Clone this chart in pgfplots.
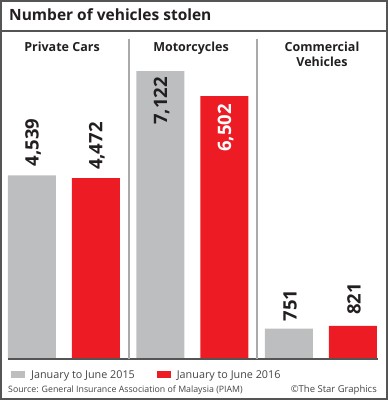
\documentclass[border=0pt]{standalone}
\usepackage{fontspec}
\setmainfont{Open Sans}
\usepackage{pgfplots}
\pgfplotsset{compat=1.18}
\definecolor{barGray}{HTML}{BCBEC0}
\definecolor{barRed}{HTML}{ED1C24}
\definecolor{frameGray}{HTML}{555555}
\definecolor{sepGray}{HTML}{AAAAAA}
\definecolor{txt}{HTML}{231F20}
\definecolor{ltxt}{HTML}{444444}
\begin{document}
\begin{tikzpicture}
\begin{axis}[name=ax, scale only axis, width=388pt, height=400pt,
  xmin=-0.498, xmax=2.5214, ymin=-1014, ymax=8878,
  hide axis, clip=false, ybar, bar width=48pt,
  legend columns=2,
  legend style={at={(rel axis cs:0,0)}, anchor=west, xshift=11pt, yshift=25pt,
    draw=none, fill=none, inner sep=0pt, font=\fontsize{10.8}{13}\selectfont\color{ltxt},
    /tikz/every even column/.append style={column sep=20pt}},
  legend cell align=left,
]
\addplot[fill=barGray, draw=none, bar shift=-32pt,
  legend image code/.code={\fill[barGray] (0pt,-3.5pt) rectangle (14pt,4pt);}]
  coordinates {(0,4539) (1,7122) (2,751)};
\addlegendentry{\hspace{4pt}January to June 2015}
\addplot[fill=barRed, draw=none, bar shift=32pt,
  legend image code/.code={\fill[barRed] (0pt,-3.5pt) rectangle (14pt,4pt);}]
  coordinates {(0,4472) (1,6502) (2,821)};
\addlegendentry{\hspace{4pt}January to June 2016}
% value labels
\tikzset{vl/.style={rotate=90, font=\fontsize{18.5}{19}\selectfont\bfseries, text=txt, inner sep=0pt}}
\node[vl, anchor=west] at ([xshift=-31pt,yshift=9pt]axis cs:0,4539) {4,539};
\node[vl, anchor=west] at ([xshift=33pt,yshift=8pt]axis cs:0,4472) {4,472};
\node[vl, anchor=east] at ([xshift=-31pt,yshift=-6pt]axis cs:1,7122) {7,122};
\node[vl, anchor=east, text=white] at ([xshift=33pt,yshift=-8pt]axis cs:1,6502) {6,502};
\node[vl, anchor=west] at ([xshift=-31pt,yshift=7pt]axis cs:2,751) {751};
\node[vl, anchor=west] at ([xshift=33pt,yshift=11pt]axis cs:2,821) {821};
\end{axis}
% frame and rules
\draw[frameGray, line width=1.5pt] (1pt,1pt) rectangle (387pt,399pt);
\draw[frameGray, line width=1.2pt] (1pt,369pt) -- (387pt,369pt);
\draw[frameGray, line width=1.3pt] (8pt,41pt) -- (378pt,41pt);
\draw[sepGray, line width=1.3pt] (129pt,41pt) -- (129pt,361pt);
\draw[sepGray, line width=1.3pt] (257pt,41pt) -- (257pt,361pt);
% title
\node[anchor=base west, inner sep=0pt, font=\fontsize{15.5}{18}\selectfont\bfseries, text=txt] at (9pt,379pt) {Number of vehicles stolen};
% headers
\tikzset{hd/.style={anchor=base, inner sep=0pt, font=\fontsize{12.5}{14}\selectfont\bfseries, text=txt, align=center}}
\node[hd] at (62pt,348pt) {Private Cars};
\node[hd] at (191pt,348pt) {Motorcycles};
\node[hd] at (322pt,348pt) {Commercial};
\node[hd] at (322pt,333pt) {Vehicles};
% source
\node[anchor=base west, inner sep=0pt, font=\fontsize{8.8}{10}\selectfont, text=ltxt] at (8pt,8pt) {Source: General Insurance Association of Malaysia (PIAM)};
\node[anchor=base east, inner sep=0pt, font=\fontsize{9.5}{10}\selectfont, text=ltxt] at (377pt,8pt) {\textcopyright The Star Graphics};
\pgfresetboundingbox
\useasboundingbox (0pt,0pt) rectangle (388pt,400pt);
\end{tikzpicture}
\end{document}
